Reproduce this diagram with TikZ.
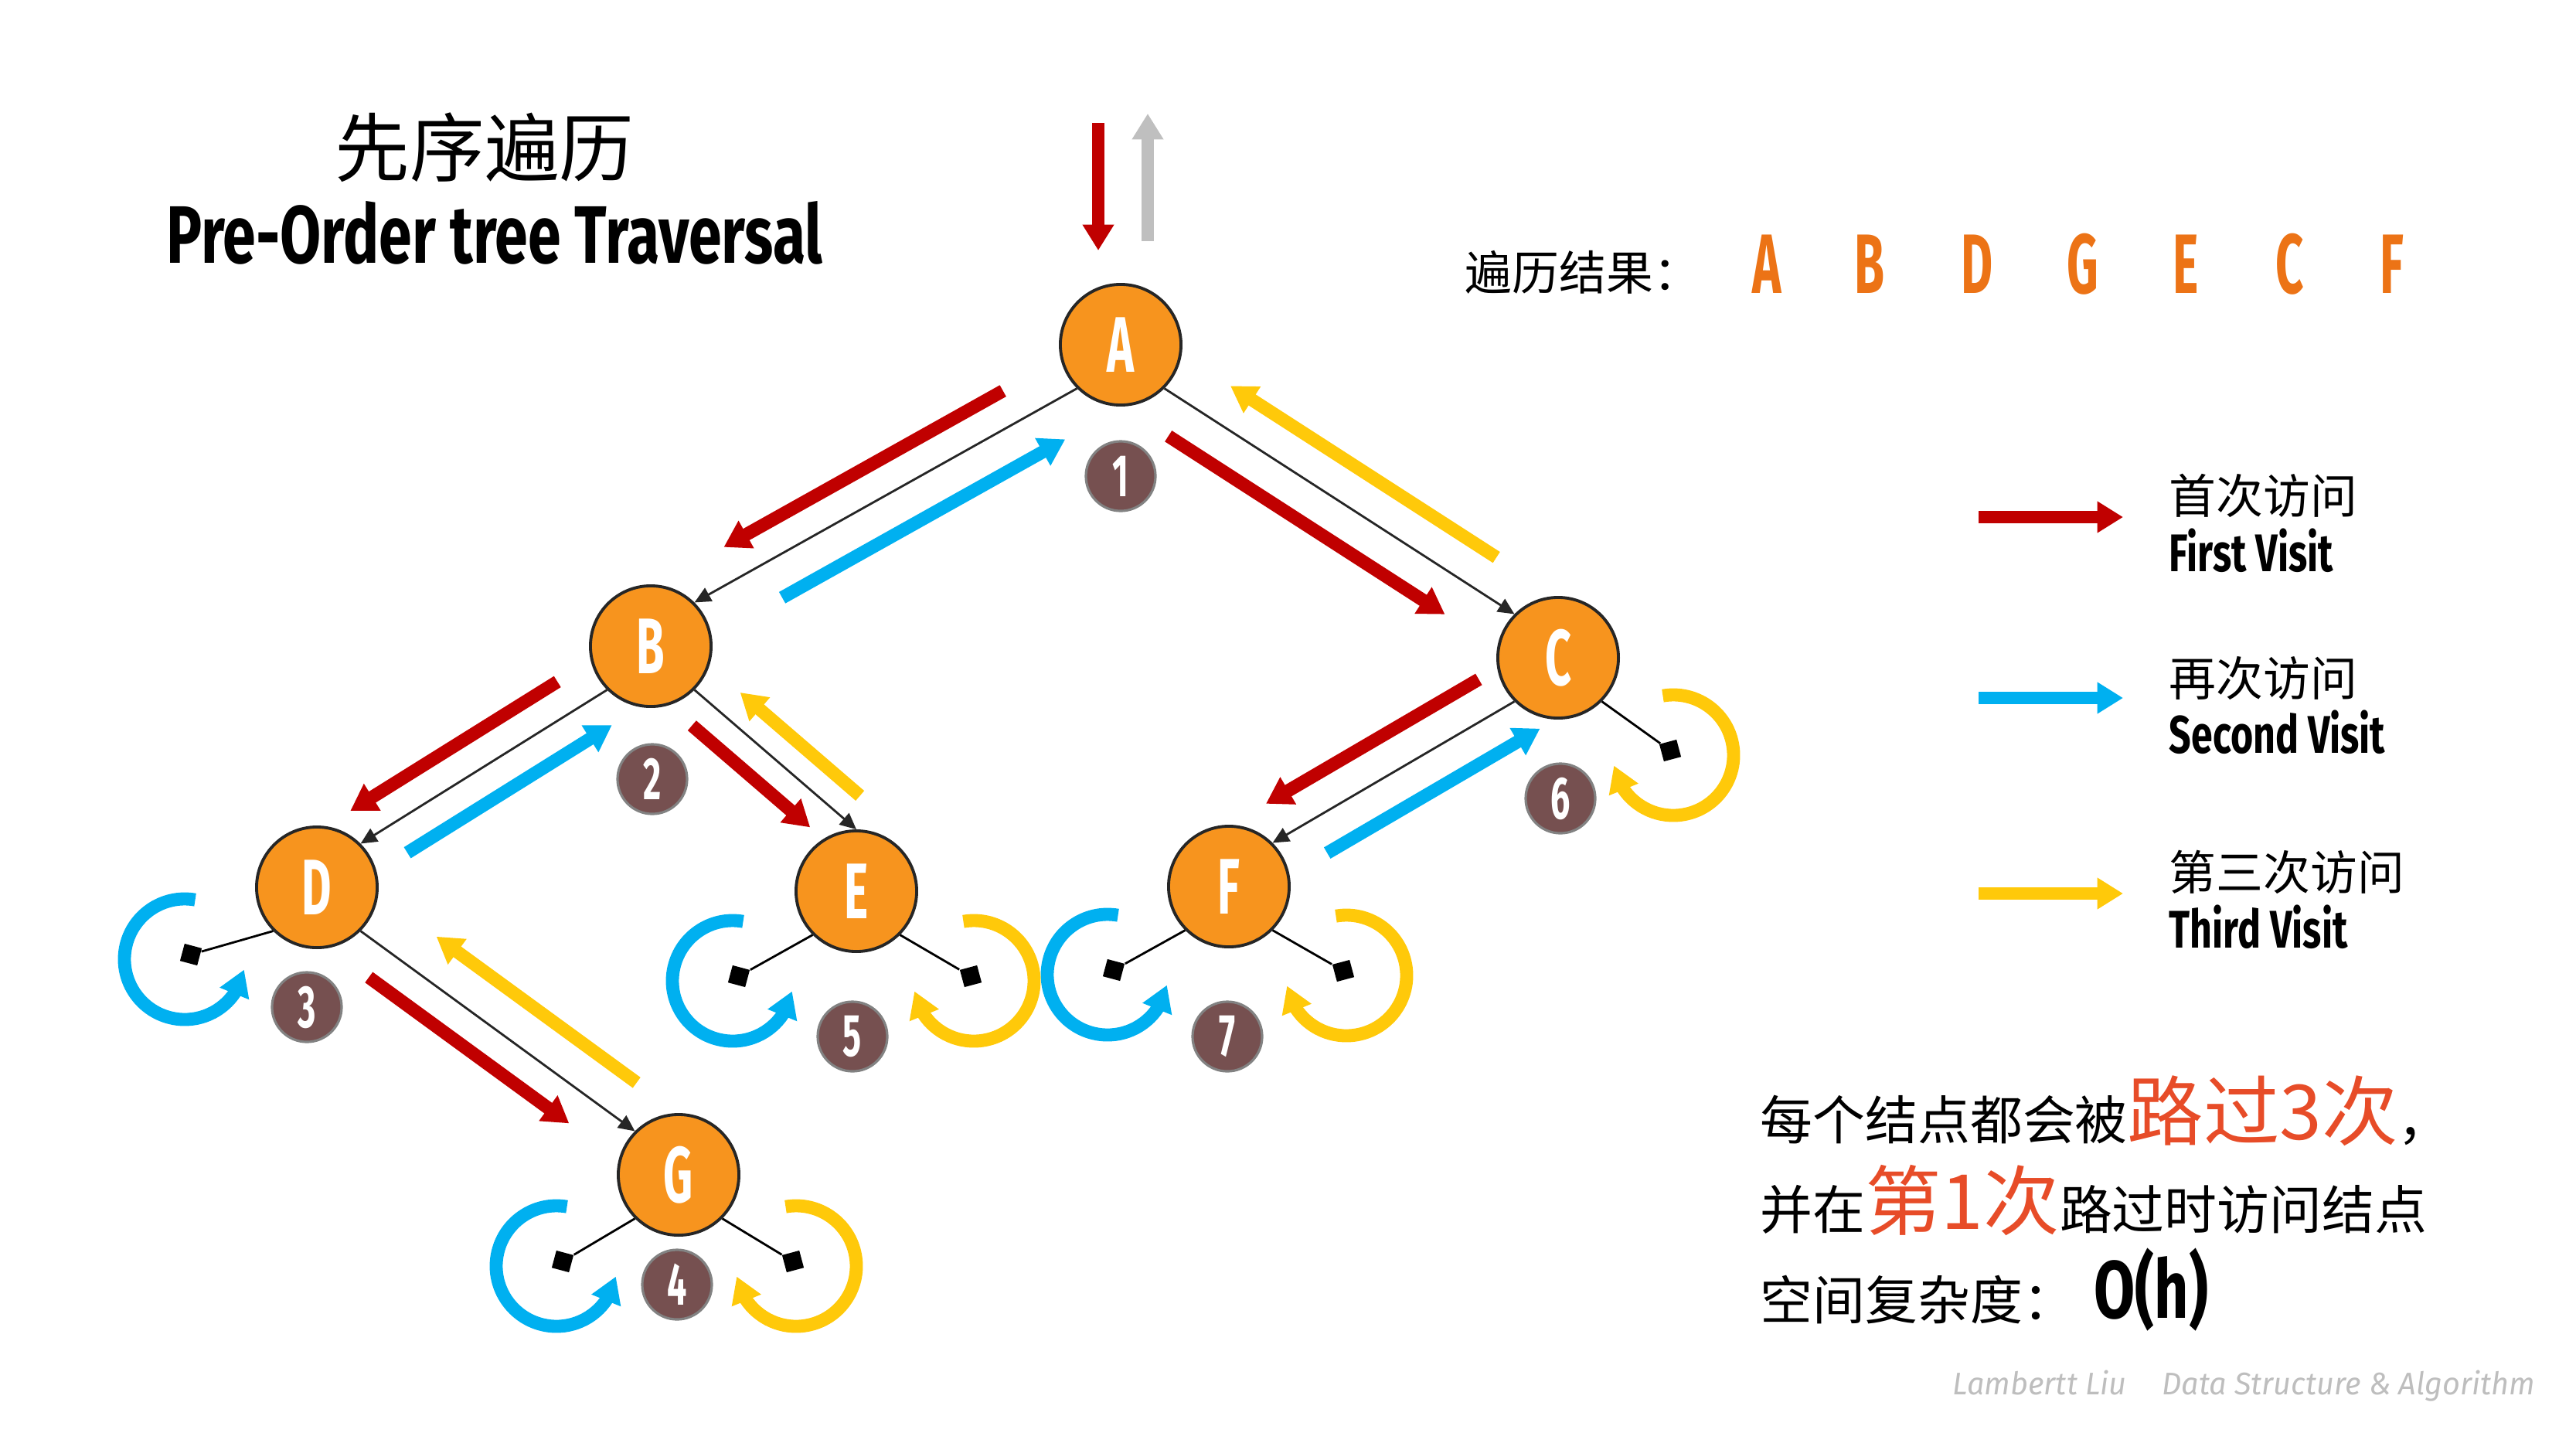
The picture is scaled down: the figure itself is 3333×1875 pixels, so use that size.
\documentclass[tikz,border=0pt]{standalone}
\usepackage{fontspec}
\setmainfont{Fira Sans}
\newfontfamily\cjk{Noto Sans CJK SC}
\newfontfamily\condtext{Fira Sans}[FakeStretch=0.73]
\newfontfamily\condletter{Fira Sans}[FakeStretch=0.58]
\newfontfamily\footfont{Fira Sans}[FakeStretch=0.98]
\usepackage{xcolor}
\usetikzlibrary{arrows.meta, calc, bending}
\definecolor{nodefill}{RGB}{247,148,30}
\definecolor{outline}{RGB}{38,38,38}
\definecolor{firstc}{RGB}{192,0,0}
\definecolor{secondc}{RGB}{0,176,240}
\definecolor{thirdc}{RGB}{255,201,10}
\definecolor{badgefill}{RGB}{118,80,80}
\definecolor{badgeline}{RGB}{130,130,130}
\definecolor{grayc}{RGB}{191,191,191}
\definecolor{resc}{RGB}{236,115,22}
\definecolor{hl}{RGB}{231,76,40}
\definecolor{footc}{RGB}{190,190,190}
\newcommand\fsz[1]{\fontsize{#1}{#1}\selectfont}

\begin{document}
\begin{tikzpicture}[x=0.01cm, y=0.01cm,
  vertex/.style={circle, draw=outline, line width=1.1pt, fill=nodefill, minimum size=1.56cm, inner sep=0pt, text=white, font=\condletter\bfseries\fsz{29pt}},
  badge/.style={circle, draw=badgeline, line width=0.9pt, fill=badgefill, minimum size=0.9cm, inner sep=0pt, text=white, font=\condletter\bfseries\fsz{22pt}},
  nil/.style={rectangle, fill=black, minimum size=0.23cm, inner sep=0pt},
  link/.style={draw=outline, line width=0.8pt, -{Triangle[length=6pt, width=5.5pt]}},
  stub/.style={draw=black, line width=0.8pt},
  visit/.style={line width=4.8pt, -{Triangle[length=9.5pt, width=11pt]}},
  firstv/.style={visit, draw=firstc},
  secondv/.style={visit, draw=secondc},
  thirdv/.style={visit, draw=thirdc},
  cjkt/.style={font=\cjk\fsz{#1}, inner sep=0pt},
  entext/.style={font=\condtext\bfseries\fsz{#1}, inner sep=0pt},
  reslet/.style={font=\condletter\bfseries\fsz{31pt}, text=resc, inner sep=0pt}]
\path[use as bounding box] (0,0) rectangle (3333,-1875);

% titles
\node[cjkt=27.5pt] (title) at (627,-191) {先序遍历};
\node[entext=30pt] (subtitle) at (640,-301) {Pre-Order tree Traversal};

% traversal result
\node[cjkt=17.3pt, anchor=west] (res) at (1895,-352) {遍历结果：};
\node[reslet] (r1) at (2286,-342) {A};
\node[reslet] (r2) at (2419,-342) {B};
\node[reslet] (r3) at (2558,-342) {D};
\node[reslet] (r4) at (2695,-342) {G};
\node[reslet] (r5) at (2828,-342) {E};
\node[reslet] (r6) at (2963,-342) {C};
\node[reslet] (r7) at (3095,-342) {F};

% tree
\node[vertex] (A) at (1450,-446) {A};
\node[vertex] (B) at (842,-836) {B};
\node[vertex] (C) at (2016,-851) {C};
\node[vertex] (D) at (410,-1148) {D};
\node[vertex] (E) at (1108,-1153) {E};
\node[vertex] (F) at (1590,-1147) {F};
\node[vertex] (G) at (878,-1520) {G};

\node[nil, rotate=-15] (dl) at (247,-1235) {};
\node[nil, rotate=-15] (el) at (956,-1263) {};
\node[nil, rotate=15] (er) at (1256,-1263) {};
\node[nil, rotate=-15] (fl) at (1441,-1255) {};
\node[nil, rotate=15] (fr) at (1738,-1256) {};
\node[nil, rotate=-15] (gl) at (728,-1632) {};
\node[nil, rotate=15] (gr) at (1026,-1632) {};
\node[nil, rotate=15] (cr) at (2161,-971) {};

\draw[link] (A.225) -- (B.45);
\draw[link] (A.-45) -- (C.135);
\draw[link] (B.225) -- (D.45);
\draw[link] (B.-45) -- (E.north);
\draw[link] (C.225) -- (F.45);
\draw[link] (D.-45) -- (G.135);

\draw[stub] (D.225) -- (dl);
\draw[stub] (E.225) -- (el);
\draw[stub] (E.-45) -- (er);
\draw[stub] (F.225) -- (fl);
\draw[stub] (F.-45) -- (fr);
\draw[stub] (G.225) -- (gl);
\draw[stub] (G.-45) -- (gr);
\draw[stub] (C.-45) -- (cr);

% entry and exit at the root
\draw[firstv] ($(A)+(-29,287)$) -- ($(A)+(-29,122)$);
\draw[visit, draw=grayc] ($(A)+(35,134)$) -- ($(A)+(35,299)$);

% walking down and back up each edge
\draw[firstv] ($(A.225)!.15!(B.45)!.44cm!-90:(B.45)$) -- ($(A.225)!.88!(B.45)!.44cm!-90:(B.45)$);
\draw[secondv] ($(A.225)!.82!(B.45)!.5cm!90:(B.45)$) -- ($(A.225)!.08!(B.45)!.5cm!90:(B.45)$);
\draw[firstv] ($(A.-45)!.07!(C.135)!.49cm!-90:(C.135)$) -- ($(A.-45)!.86!(C.135)!.49cm!-90:(C.135)$);
\draw[thirdv] ($(A.-45)!.89!(C.135)!.49cm!90:(C.135)$) -- ($(A.-45)!.13!(C.135)!.49cm!90:(C.135)$);
\draw[firstv] ($(B.225)!.13!(D.45)!.43cm!-90:(D.45)$) -- ($(B.225)!.97!(D.45)!.43cm!-90:(D.45)$);
\draw[secondv] ($(B.225)!.88!(D.45)!.42cm!90:(D.45)$) -- ($(B.225)!.05!(D.45)!.42cm!90:(D.45)$);
\draw[firstv] ($(B.-45)!.10!(E.north)!.37cm!-90:(E.north)$) -- ($(B.-45)!.83!(E.north)!.37cm!-90:(E.north)$);
\draw[thirdv] ($(B.-45)!.91!(E.north)!.36cm!90:(E.north)$) -- ($(B.-45)!.17!(E.north)!.36cm!90:(E.north)$);
\draw[firstv] ($(C.225)!.07!(F.45)!.48cm!-90:(F.45)$) -- ($(C.225)!.95!(F.45)!.48cm!-90:(F.45)$);
\draw[secondv] ($(C.225)!.85!(F.45)!.47cm!90:(F.45)$) -- ($(C.225)!-.03!(F.45)!.47cm!90:(F.45)$);
\draw[firstv] ($(D.-45)!.10!(G.135)!.42cm!-90:(G.135)$) -- ($(D.-45)!.83!(G.135)!.42cm!-90:(G.135)$);
\draw[thirdv] ($(D.-45)!.92!(G.135)!.52cm!90:(G.135)$) -- ($(D.-45)!.19!(G.135)!.52cm!90:(G.135)$);

% turning round at the empty children
\draw[secondv] ($(dl)+(-8,-6)+(80:78)$) arc[start angle=80, end angle=350, radius=78];
\draw[secondv] ($(el)+(-8,-6)+(80:78)$) arc[start angle=80, end angle=350, radius=78];
\draw[secondv] ($(fl)+(-8,-6)+(80:78)$) arc[start angle=80, end angle=350, radius=78];
\draw[secondv] ($(gl)+(-8,-6)+(80:78)$) arc[start angle=80, end angle=350, radius=78];
\draw[thirdv] ($(er)+(4,-6)+(100:78)$) arc[start angle=100, end angle=-170, radius=78];
\draw[thirdv] ($(fr)+(4,-6)+(100:78)$) arc[start angle=100, end angle=-170, radius=78];
\draw[thirdv] ($(gr)+(4,-6)+(100:78)$) arc[start angle=100, end angle=-170, radius=78];
\draw[thirdv] ($(cr)+(4,-6)+(100:78)$) arc[start angle=100, end angle=-170, radius=78];

% visiting order
\node[badge] (n1) at (1450,-616) {1};
\node[badge] (n2) at (844,-1008) {2};
\node[badge] (n3) at (397,-1303) {3};
\node[badge] (n4) at (876,-1662) {4};
\node[badge] (n5) at (1103,-1341) {5};
\node[badge] (n6) at (2019,-1033) {6};
\node[badge] (n7) at (1588,-1341) {7};

% legend
\node[cjkt=17.3pt, anchor=west] (k1) at (2806,-641) {首次访问};
\node[entext=19.5pt, anchor=west] (k1e) at (2806,-712) {First Visit};
\node[cjkt=17.3pt, anchor=west] (k2) at (2806,-877) {再次访问};
\node[entext=19.5pt, anchor=west] (k2e) at (2806,-947) {Second Visit};
\node[cjkt=17.3pt, anchor=west] (k3) at (2806,-1128) {第三次访问};
\node[entext=19.5pt, anchor=west] (k3e) at (2806,-1199) {Third Visit};
\draw[firstv] ($(k1.west)+(-246,-28)$) -- ($(k1.west)+(-59,-28)$);
\draw[secondv] ($(k2.west)+(-246,-26)$) -- ($(k2.west)+(-59,-26)$);
\draw[thirdv] ($(k3.west)+(-246,-28)$) -- ($(k3.west)+(-59,-28)$);

% notes
\node[cjkt=19.3pt, anchor=base west] (note1) at (2277,-1474) {每个结点都会被{\color{hl}\fsz{28pt}路过3次}，};
\node[cjkt=19.3pt, anchor=base west] (note2) at (2277,-1590) {并在{\color{hl}\fsz{28pt}第1次}路过时访问结点};
\node[cjkt=19.3pt, anchor=base west] (note3) at (2277,-1707) {空间复杂度：};
\node[entext=30pt, anchor=base west] (cplx) at (2709,-1705) {O(h)};

\node[font=\footfont\itshape\fsz{11.5pt}, text=footc, anchor=west, inner sep=0pt] (sign) at (2526,-1793) {Lambertt Liu\hspace{13pt}Data Structure \& Algorithm};
\end{tikzpicture}
\end{document}
